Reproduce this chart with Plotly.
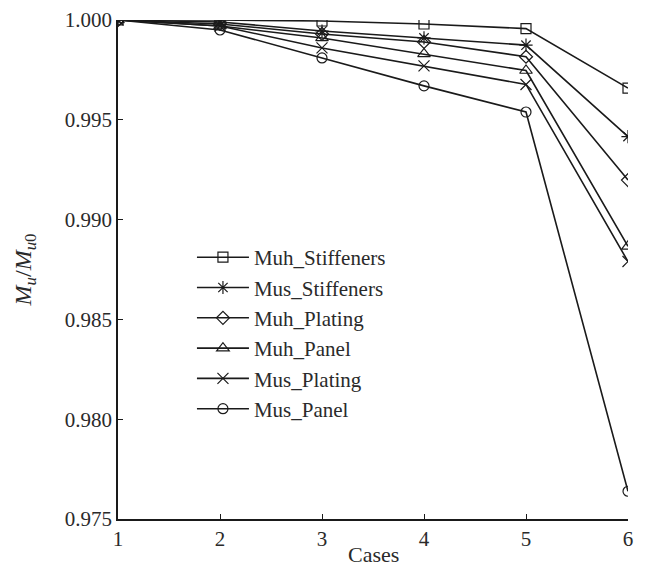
import plotly.graph_objects as go

cases = [1, 2, 3, 4, 5, 6]
muh_stiffeners = [1.0000, 1.0000, 0.99995, 0.9998, 0.99957, 0.99659]
mus_stiffeners = [1.0000, 0.9999, 0.99945, 0.9991, 0.99874, 0.99416]
muh_plating = [1.0000, 0.9998, 0.9993, 0.9989, 0.99816, 0.99198]
muh_panel = [1.0000, 0.9997, 0.9991, 0.9983, 0.99747, 0.98866]
mus_plating = [1.0000, 0.9997, 0.9986, 0.9977, 0.99677, 0.98790]
mus_panel = [1.0000, 0.9995, 0.9981, 0.9967, 0.99539, 0.97639]
y_ticks = [0.975, 0.980, 0.985, 0.990, 0.995, 1.000]
y_tick_labels = ["0.975", "0.980", "0.985", "0.990", "0.995", "1.000"]

series = [
    ("Muh_Stiffeners", muh_stiffeners, "square-open", 10),
    ("Mus_Stiffeners", mus_stiffeners, "asterisk-open", 11),
    ("Muh_Plating", muh_plating, "diamond-open", 10),
    ("Muh_Panel", muh_panel, "triangle-up-open", 11),
    ("Mus_Plating", mus_plating, "x-thin-open", 11),
    ("Mus_Panel", mus_panel, "circle-open", 10),
]

font_family = "Liberation Serif, Times New Roman, serif"
ink = "#1a1a1a"

fig = go.Figure()
for name, vals, sym, size in series:
    fig.add_trace(go.Scatter(
        x=cases, y=vals, name=name, mode="lines+markers",
        line=dict(color=ink, width=1.6),
        marker=dict(symbol=sym, size=size, color=ink,
                    line=dict(color=ink, width=1.2)),
    ))

fig.update_layout(
    width=647, height=570,
    margin=dict(l=110, r=27, t=12, b=59),
    paper_bgcolor="white", plot_bgcolor="white",
    font=dict(family=font_family, size=21, color="#2a2a2a"),
    showlegend=True,
    legend=dict(x=0.145, y=0.565, xanchor="left", yanchor="top",
                bgcolor="rgba(0,0,0,0)", font=dict(size=21, family=font_family),
                tracegroupgap=0, itemwidth=52),
    xaxis=dict(range=[1, 6], tickvals=cases, ticktext=[str(c) for c in cases],
               showgrid=False, zeroline=False, showline=True, linecolor=ink,
               linewidth=1.5, ticks="inside", ticklen=5, tickcolor=ink,
               automargin=False, tickfont=dict(size=21), ticklabeloverflow="allow"),
    yaxis=dict(range=[0.975, 1.000], tickvals=y_ticks, ticktext=y_tick_labels,
               showgrid=False, zeroline=False, showline=True, linecolor=ink,
               linewidth=1.5, ticks="inside", ticklen=5, tickcolor=ink,
               automargin=False, tickfont=dict(size=21), ticklabeloverflow="allow",
               title=dict(text="<i>M</i><sub><i>u</i></sub>/<i>M</i><sub><i>u</i>0</sub>",
                          font=dict(size=24, family=font_family), standoff=26)),
    annotations=[dict(text="Cases", xref="paper", yref="paper", x=0.5, y=0,
                      xanchor="center", yanchor="middle", yshift=-35, showarrow=False,
                      font=dict(size=22, family=font_family, color="#2a2a2a"))],
)

fig.write_html("out.html")
